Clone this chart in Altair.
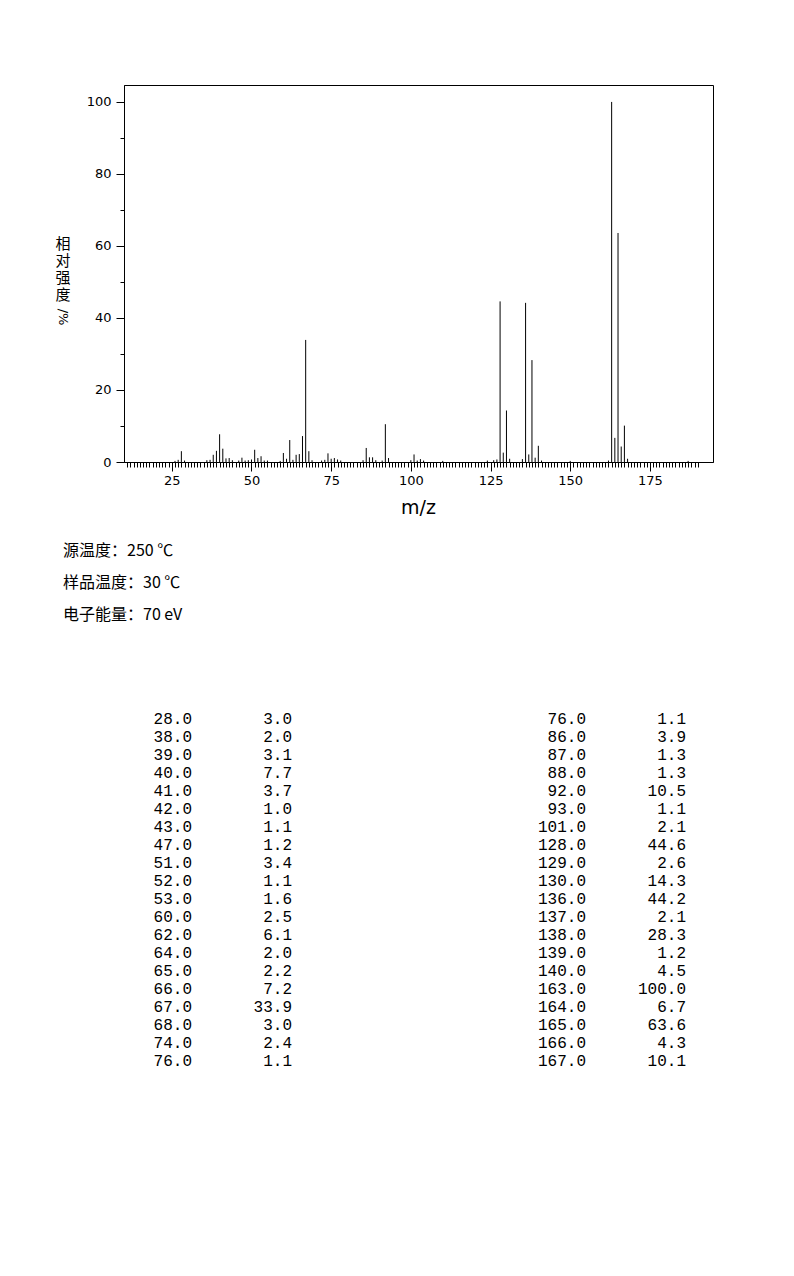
import altair as alt
import pandas as pd

# ---- peaks listed in the table (m/z, relative intensity %) ----
peak_mz = [28, 38, 39, 40, 41, 42, 43, 47, 51, 52, 53, 60, 62, 64, 65, 66, 67, 68, 74, 76,
           86, 87, 88, 92, 93, 101, 128, 129, 130, 136, 137, 138, 139, 140, 163, 164, 165, 166, 167]
peak_int = [3.0, 2.0, 3.1, 7.7, 3.7, 1.0, 1.1, 1.2, 3.4, 1.1, 1.6, 2.5, 6.1, 2.0, 2.2, 7.2, 33.9, 3.0, 2.4, 1.1,
            3.9, 1.3, 1.3, 10.5, 1.1, 2.1, 44.6, 2.6, 14.3, 44.2, 2.1, 28.3, 1.2, 4.5, 100.0, 6.7, 63.6, 4.3, 10.1]

# ---- small peaks (<1 %) ----
minor_mz = [26, 27, 29, 36, 37, 44, 46, 48, 49, 50, 54, 55, 59, 61, 63, 69, 72, 73, 75, 77, 78,
            85, 89, 91, 100, 102, 103, 104, 110, 124, 126, 127, 131, 135, 141, 150, 162, 168, 187]
minor_int = [0.3, 0.6, 0.4, 0.5, 0.6, 0.5, 0.4, 0.4, 0.5, 0.7, 0.4, 0.4, 0.3, 0.9, 0.6, 0.5, 0.4, 0.6, 0.9, 0.7, 0.4,
             0.5, 0.5, 0.4, 0.5, 0.4, 0.8, 0.4, 0.3, 0.4, 0.5, 0.7, 0.9, 0.8, 0.4, 0.3, 0.4, 0.9, 0.3]

# ---- table columns ----
left_mz = [28.0, 38.0, 39.0, 40.0, 41.0, 42.0, 43.0, 47.0, 51.0, 52.0, 53.0, 60.0, 62.0, 64.0, 65.0,
           66.0, 67.0, 68.0, 74.0, 76.0]
left_int = [3.0, 2.0, 3.1, 7.7, 3.7, 1.0, 1.1, 1.2, 3.4, 1.1, 1.6, 2.5, 6.1, 2.0, 2.2, 7.2, 33.9, 3.0, 2.4, 1.1]
right_mz = [76.0, 86.0, 87.0, 88.0, 92.0, 93.0, 101.0, 128.0, 129.0, 130.0, 136.0, 137.0, 138.0, 139.0,
            140.0, 163.0, 164.0, 165.0, 166.0, 167.0]
right_int = [1.1, 3.9, 1.3, 1.3, 10.5, 1.1, 2.1, 44.6, 2.6, 14.3, 44.2, 2.1, 28.3, 1.2, 4.5, 100.0, 6.7, 63.6, 4.3, 10.1]

info_lines = ["源温度：250 ℃", "样品温度：30 ℃", "电子能量：70 eV"]
y_title_chars = ["相", "对", "强", "度"]
y_title_tail = "/%"
x_title = "m/z"

x_ticks = list(range(11, 191))
y_ticks = list(range(0, 101, 10))

W, H = 589, 377

spec = pd.DataFrame({"mz": peak_mz + minor_mz, "rel": peak_int + minor_int})

bars = alt.Chart(spec).mark_rule(color="black", strokeWidth=1).encode(
    x=alt.X("mz:Q",
            scale=alt.Scale(domain=[10, 194.8], nice=False, zero=False),
            axis=alt.Axis(values=x_ticks, title=None, grid=False,
                          labelExpr="datum.value % 25 === 0 ? datum.label : ''",
                          labelOverlap=False, labelFlush=False,
                          tickSize={"condition": {"test": "datum.value % 25 === 0", "value": 9}, "value": 5},
                          labelPadding=3, labelFont="DejaVu Sans", labelFontSize=13,
                          labelColor="black", tickColor="black", domainColor="black")),
    y=alt.Y("rel:Q",
            scale=alt.Scale(domain=[0, 104.7], nice=False),
            axis=alt.Axis(values=y_ticks, title=None, grid=False,
                          labelExpr="datum.value % 20 === 0 ? datum.label : ''",
                          labelOverlap=False, labelFlush=False,
                          tickSize={"condition": {"test": "datum.value % 20 === 0", "value": 8}, "value": 4},
                          labelPadding=5, labelFont="DejaVu Sans", labelFontSize=13,
                          labelColor="black", tickColor="black", domainColor="black")),
    y2=alt.datum(0),
)

one = pd.DataFrame({"k": [0]})

ytitle_layers = [
    alt.Chart(one).mark_text(
        text=ch, font="Noto Sans CJK SC", fontSize=15,
        align="center", baseline="middle", color="black"
    ).encode(x=alt.value(-61), y=alt.value(159 + 17 * i))
    for i, ch in enumerate(y_title_chars)
]

ytail = alt.Chart(one).mark_text(
    text=y_title_tail, font="DejaVu Sans", fontSize=13, angle=90,
    align="center", baseline="middle", color="black"
).encode(x=alt.value(-61), y=alt.value(232))

xtitle = alt.Chart(one).mark_text(
    text=x_title, font="DejaVu Sans", fontSize=19, align="center", baseline="middle", color="black"
).encode(x=alt.value(W / 2), y=alt.value(423))

info_layers = [
    alt.Chart(one).mark_text(text=line, font="Noto Sans CJK SC", fontSize=16,
                             align="left", baseline="middle", color="black")
    .encode(x=alt.value(-61), y=alt.value(465.5 + 32 * i))
    for i, line in enumerate(info_lines)
]

def col_layer(values, xpos):
    df = pd.DataFrame({"row": list(range(len(values))), "txt": [f"{v:.1f}" for v in values]})
    return alt.Chart(df).mark_text(
        align="right", baseline="middle", font="Liberation Mono", fontSize=16, color="black"
    ).encode(
        x=alt.value(xpos),
        y=alt.Y("row:O", scale=alt.Scale(domain=list(range(20)), range=[634, 976], padding=0), axis=None),
        text="txt:N",
    )

table = alt.layer(
    col_layer(left_mz, 68), col_layer(left_int, 168),
    col_layer(right_mz, 462), col_layer(right_int, 562),
)

chart = alt.layer(bars, table, *ytitle_layers, ytail, xtitle, *info_layers).resolve_scale(
    y="independent", x="independent"
).properties(
    width=W, height=H,
    autosize=alt.AutoSizeParams(type="none"),
    padding={"left": 124, "top": 85, "right": 81, "bottom": 814},
    background="white",
).configure_view(stroke="black", strokeWidth=1).configure_axis(
    domainWidth=1, tickWidth=1
)

chart.save("out.html", embed_options={"renderer": "svg", "actions": False})
